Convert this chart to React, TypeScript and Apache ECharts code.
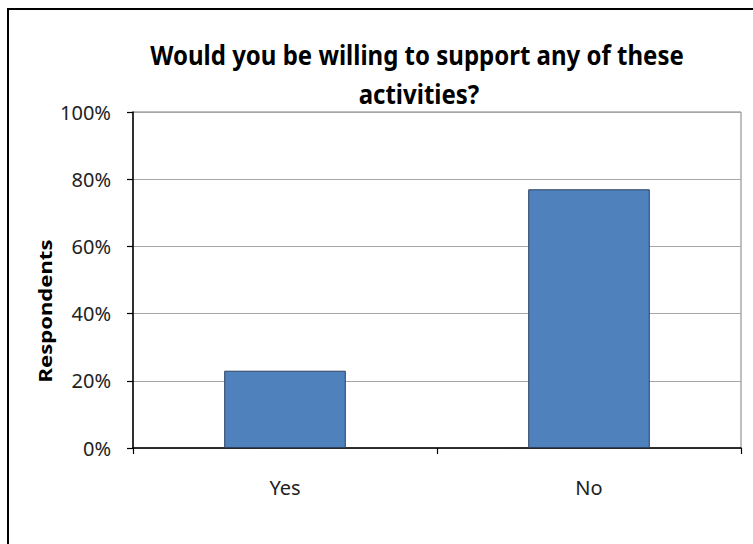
import React, { useEffect, useRef } from "react";
import * as echarts from "echarts";

const categories = ["Yes", "No"];
const values = [23, 77];
const yTicks = [0, 20, 40, 60, 80, 100];
const titleLines = ["Would you be willing to support any of these", "activities?"];
const yAxisTitle = "Respondents";

export default function App() {
  const ref = useRef<HTMLDivElement>(null);
  useEffect(() => {
    document.body.style.margin = "0";
    const chart = echarts.init(ref.current!, null, { renderer: "svg" });
    const font = "'Noto Sans', sans-serif";
    chart.setOption({
      animation: false,
      backgroundColor: "#ffffff",
      grid: {
        left: 133,
        right: 12,
        top: 112,
        bottom: 96,
        show: true,
        borderColor: "#7f7f7f",
        borderWidth: 1,
      },
      xAxis: {
        type: "category",
        data: categories,
        axisLine: { lineStyle: { color: "#000", width: 1.5 } },
        axisTick: { show: true, length: 6, interval: 0, lineStyle: { color: "#000", width: 1.2 } },
        axisLabel: { color: "#222", fontFamily: font, fontSize: 20, margin: 29 },
      },
      yAxis: {
        type: "value",
        min: yTicks[0],
        max: yTicks[yTicks.length - 1],
        interval: 20,
        axisLine: { show: true, lineStyle: { color: "#000", width: 1.5 } },
        axisTick: { show: true, length: 6, lineStyle: { color: "#000", width: 1.2 } },
        axisLabel: { color: "#222", fontFamily: font, fontSize: 20, margin: 22, formatter: "{value}%" },
        splitLine: { lineStyle: { color: "#a6a6a6", width: 1.2 } },
      },
      series: [
        {
          type: "bar",
          data: values,
          barWidth: "40%",
          itemStyle: { color: "#4f81bd", borderColor: "#2c4260", borderWidth: 1 },
        },
      ],
      graphic: [
        {
          type: "rect",
          shape: { x: 8, y: 9, width: 800, height: 600 },
          style: { fill: "none", stroke: "#000", lineWidth: 2 },
          silent: true,
        },
        {
          type: "text",
          x: 417,
          y: 54,
          scaleY: 1.15,
          style: {
            text: titleLines[0],
            font: `bold 24px ${font}`,
            fill: "#000",
            textAlign: "center",
            textVerticalAlign: "middle",
          },
        },
        {
          type: "text",
          x: 419,
          y: 93,
          scaleY: 1.15,
          style: {
            text: titleLines[1],
            font: `bold 24px ${font}`,
            fill: "#000",
            textAlign: "center",
            textVerticalAlign: "middle",
          },
        },
        {
          type: "text",
          x: 46,
          y: 311,
          rotation: Math.PI / 2,
          scaleX: 1.3,
          style: {
            text: yAxisTitle,
            font: `bold 17px ${font}`,
            fill: "#000",
            textAlign: "center",
            textVerticalAlign: "middle",
          },
        },
      ],
    });
    return () => chart.dispose();
  }, []);
  return <div ref={ref} style={{ width: 753, height: 544 }} />;
}
